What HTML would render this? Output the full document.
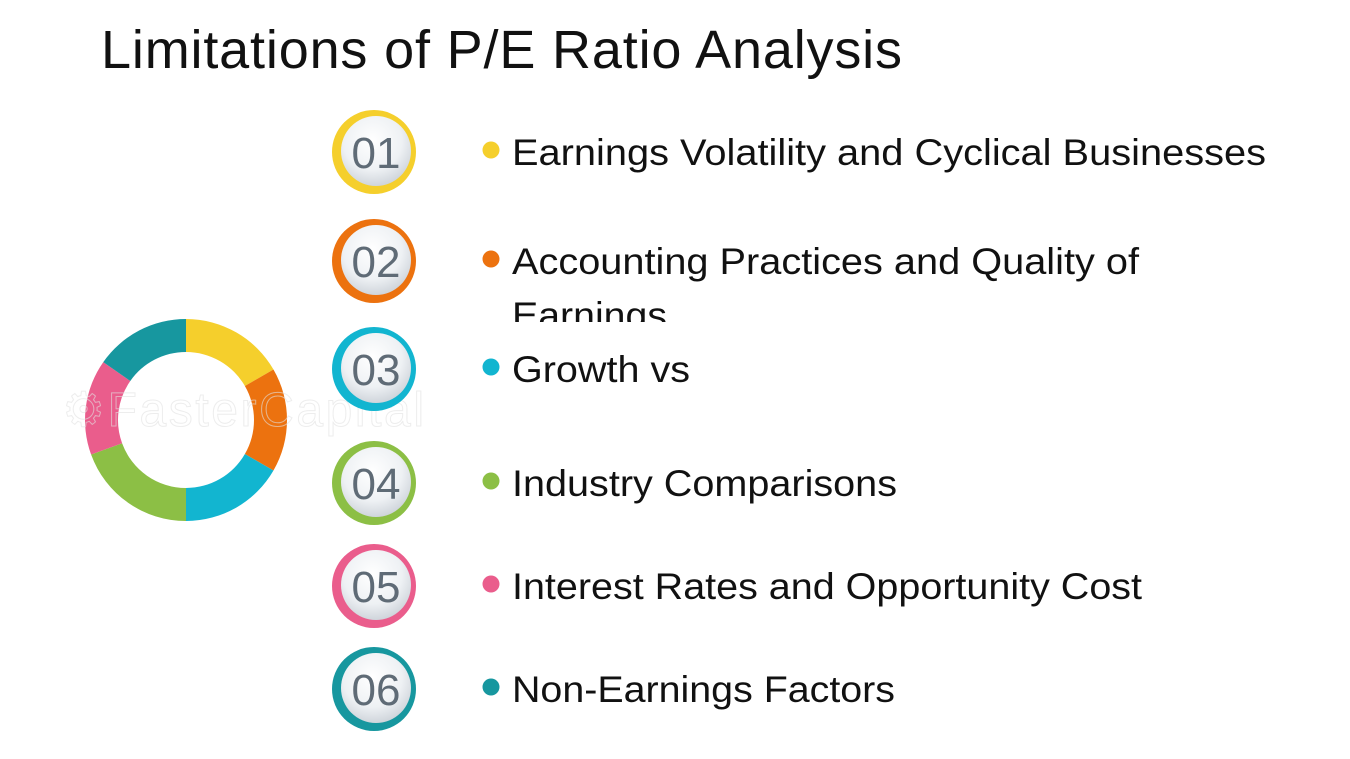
<!DOCTYPE html>
<html><head><meta charset="utf-8"><style>
html,body{margin:0;padding:0;background:#fff;}
svg{display:block;font-family:"Liberation Sans",Arial,sans-serif;}
</style></head><body>
<svg width="1350" height="759" viewBox="0 0 1350 759">
<defs>
<radialGradient id="g" cx="45%" cy="35%" r="70%">
<stop offset="0" stop-color="#ffffff"/><stop offset="0.6" stop-color="#eef1f4"/><stop offset="1" stop-color="#c9cfd6"/>
</radialGradient>
<clipPath id="clip2"><rect x="500" y="225" width="800" height="97"/></clipPath>
</defs>
<text x="101" y="68" font-size="54" fill="#111" textLength="801">Limitations of P/E Ratio Analysis</text>
<g id="ring"></g>
<text x="62" y="426" font-size="48" fill="none" stroke="#e2e2e2" stroke-width="1" textLength="362" opacity="0.6">⚙FasterCapital</text>
<g id="items"></g>
</svg>
<script>
const labels=["Earnings Volatility and Cyclical Businesses","Accounting Practices and Quality of","Growth vs","Industry Comparisons","Interest Rates and Opportunity Cost","Non-Earnings Factors"];
const labelWidths=[754,627,178,385,630,383];
const colors=["#f5cf2c","#ec720f","#12b5d0","#8cbf45","#ea5d8c","#17979f"];
const segStart=[0,60,120,180,250,305];
const segEnd=[60,120,180,250,305,360];
const centersY=[152,261,369,483,586,689];
const NS="http://www.w3.org/2000/svg";
const ring=document.getElementById('ring');
const cx=186,cy=420,R=101,r=68;
function pt(a,rad){const t=(a-90)*Math.PI/180;return [cx+rad*Math.cos(t),cy+rad*Math.sin(t)];}
for(let i=0;i<6;i++){
 const a0=segStart[i],a1=segEnd[i];
 const [x0,y0]=pt(a0,R),[x1,y1]=pt(a1,R),[x2,y2]=pt(a1,r),[x3,y3]=pt(a0,r);
 const large=(a1-a0)>180?1:0;
 const p=document.createElementNS(NS,'path');
 p.setAttribute('d',`M${x0} ${y0}A${R} ${R} 0 ${large} 1 ${x1} ${y1}L${x2} ${y2}A${r} ${r} 0 ${large} 0 ${x3} ${y3}Z`);
 p.setAttribute('fill',colors[i]);
 
 
 ring.appendChild(p);
}
const items=document.getElementById('items');
for(let i=0;i<6;i++){
 const y=centersY[i];
 const g=document.createElementNS(NS,'g');
 
 
 const c1=document.createElementNS(NS,'circle');
 c1.setAttribute('cx',374);c1.setAttribute('cy',y);c1.setAttribute('r',42);c1.setAttribute('fill',colors[i]);
 
 
 const c2=document.createElementNS(NS,'circle');
 c2.setAttribute('cx',376);c2.setAttribute('cy',y-1);c2.setAttribute('r',35);c2.setAttribute('fill','url(#g)');
 
 
 const n=document.createElementNS(NS,'text');
 n.setAttribute('x',376);n.setAttribute('y',y+16);n.setAttribute('text-anchor','middle');
 n.setAttribute('font-size','44');n.setAttribute('fill','#5f6b76');
 n.textContent='0'+(i+1);
 
 
 const b=document.createElementNS(NS,'circle');
 b.setAttribute('cx',491);b.setAttribute('cy',y-2);b.setAttribute('r',8.5);b.setAttribute('fill',colors[i]);
 
 
 const t=document.createElementNS(NS,'text');
 t.setAttribute('x',512);t.setAttribute('y',y+13);t.setAttribute('font-size','37');t.setAttribute('fill','#111');
 t.setAttribute('textLength',labelWidths[i]);t.setAttribute('lengthAdjust','spacingAndGlyphs');
 t.textContent=labels[i];
 
 
 g.appendChild(c1);g.appendChild(c2);g.appendChild(n);g.appendChild(b);g.appendChild(t);
 if(i===1){
  const t2=document.createElementNS(NS,'text');
  t2.setAttribute('x',512);t2.setAttribute('y',y+67);t2.setAttribute('font-size','37');t2.setAttribute('fill','#111');
  t2.setAttribute('textLength',155);t2.setAttribute('lengthAdjust','spacingAndGlyphs');
  t2.setAttribute('clip-path','url(#clip2)');
  t2.textContent='Earnings';
  
  
  g.appendChild(t2);
 }
 items.appendChild(g);
}
</script>
</body></html>
